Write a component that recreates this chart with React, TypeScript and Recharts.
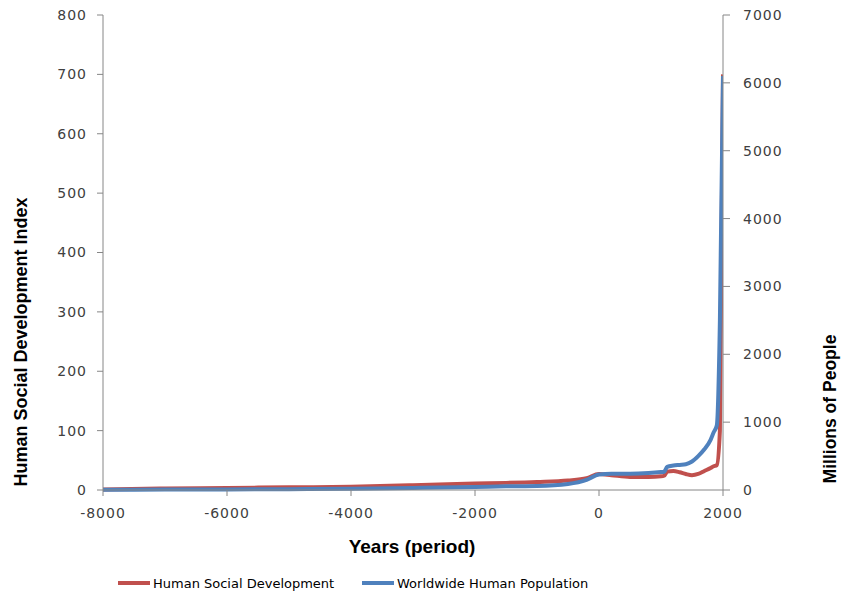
import React from "react";
import { LineChart, Line, XAxis, YAxis } from "recharts";

const years = [-8000, -7000, -6000, -5000, -4000, -3000, -2000, -1500, -1000, -500, -200, 0, 200, 500, 800, 1000, 1050, 1100, 1200, 1300, 1400, 1500, 1600, 1700, 1800, 1850, 1900, 1950, 2000];
const socialDevelopment = [1, 2.5, 3.5, 4.5, 5.5, 8, 11, 12, 13.5, 16, 20, 27, 25, 22, 22, 23, 24, 31, 32, 30, 27, 25, 27, 32, 37, 40, 42, 100, 700];
const population = [5, 6, 8, 12, 20, 30, 45, 55, 60, 90, 150, 230, 240, 240, 250, 265, 270, 340, 360, 370, 380, 420, 500, 600, 740, 850, 950, 2500, 6100];

const xTicks = [-8000, -6000, -4000, -2000, 0, 2000];
const leftTicks = [0, 100, 200, 300, 400, 500, 600, 700, 800];
const rightTicks = [0, 1000, 2000, 3000, 4000, 5000, 6000, 7000];

const seriesNames = ["Human Social Development", "Worldwide Human Population"];
const leftTitle = "Human Social Development Index";
const rightTitle = "Millions of People";
const xTitle = "Years (period)";

const RED = "#C0504D";
const BLUE = "#4F81BD";
const AXIS = "#868686";

const data = years.map((y, i) => ({ year: y, hsd: socialDevelopment[i], pop: population[i] }));

const tickStyle = { fontFamily: "'DejaVu Sans', Verdana, sans-serif", fontSize: 14, fill: "#404040", letterSpacing: 1 };
const titleFont = "'Liberation Sans', Arial, sans-serif";

export default function App() {
  return (
    <div style={{ position: "absolute", left: 0, top: 0, width: 842, height: 593, background: "#fff" }}>
      <LineChart width={842} height={593} data={data} margin={{ top: 15, right: 59, bottom: 73, left: 0 }}>
        <XAxis
          dataKey="year"
          type="number"
          domain={[-8000, 2000]}
          ticks={xTicks}
          allowDataOverflow
          height={30}
          tickSize={6}
          tickMargin={12}
          stroke={AXIS}
          tick={tickStyle}
          interval={0}
        />
        <YAxis
          yAxisId="left"
          orientation="left"
          domain={[0, 800]}
          ticks={leftTicks}
          width={103}
          tickSize={6}
          tickMargin={10}
          stroke={AXIS}
          tick={tickStyle}
          interval={0}
        />
        <YAxis
          yAxisId="right"
          orientation="right"
          domain={[0, 7000]}
          ticks={rightTicks}
          width={60}
          tickSize={7}
          tickMargin={13}
          stroke={AXIS}
          tick={tickStyle}
          interval={0}
        />
        <Line yAxisId="left" type="monotone" dataKey="hsd" name={seriesNames[0]} stroke={RED} strokeWidth={4} dot={false} isAnimationActive={false} />
        <Line yAxisId="right" type="monotone" dataKey="pop" name={seriesNames[1]} stroke={BLUE} strokeWidth={4} dot={false} isAnimationActive={false} />
      </LineChart>
      <svg width={842} height={593} style={{ position: "absolute", left: 0, top: 0, pointerEvents: "none" }}>
        <text x={0} y={0} transform="translate(27,342) rotate(-90)" textAnchor="middle" fontFamily={titleFont} fontWeight="bold" fontSize={18} fill="#000">
          {leftTitle}
        </text>
        <text x={0} y={0} transform="translate(836,409) rotate(-90)" textAnchor="middle" fontFamily={titleFont} fontWeight="bold" fontSize={17.5} fill="#000">
          {rightTitle}
        </text>
        <text x={412} y={553} textAnchor="middle" fontFamily={titleFont} fontWeight="bold" fontSize={19} fill="#000">
          {xTitle}
        </text>
        <line x1={118} y1={583} x2={150} y2={583} stroke={RED} strokeWidth={4} />
        <text x={153} y={588} fontFamily="'DejaVu Sans', Verdana, sans-serif" fontSize={13} fill="#000">
          {seriesNames[0]}
        </text>
        <line x1={362} y1={583} x2={394} y2={583} stroke={BLUE} strokeWidth={4} />
        <text x={397} y={588} fontFamily="'DejaVu Sans', Verdana, sans-serif" fontSize={13} fill="#000">
          {seriesNames[1]}
        </text>
      </svg>
    </div>
  );
}
